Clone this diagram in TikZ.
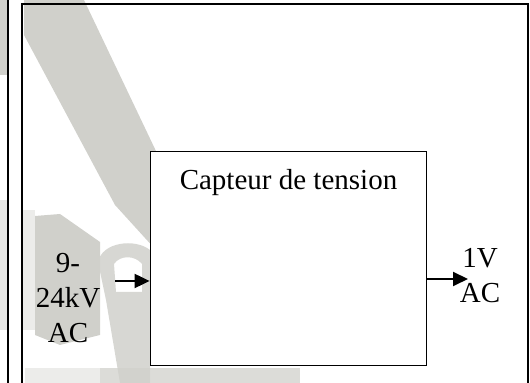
\documentclass[tikz,border=0pt]{standalone}
\usepackage{fontspec}
\setmainfont{Liberation Serif}
\usetikzlibrary{positioning, arrows.meta, calc}
\definecolor{wmgrey}{RGB}{208,208,203}

\begin{document}
\begin{tikzpicture}[
    x=0.5pt, y=-0.5pt,
    font=\fontsize{14.5}{17.5}\selectfont,
    frame_line/.style={line width=1pt, draw=black},
    blk_box/.style   ={draw, line width=0.9pt, fill=white, minimum width=138pt, minimum height=107pt, inner sep=0pt},
    sig_label/.style ={align=center, inner sep=0pt},
    sig_arrow/.style ={line width=1pt, -{Triangle[length=7.5pt, width=7pt]}},
    watermark/.style ={fill=wmgrey, draw=none}
]
\useasboundingbox (0,0) rectangle (530,383);

% Watermark (background)
\fill[watermark] (24,0) -- (84,0) -- (165,170) -- (165,260) -- (115,205) -- (24,35) -- cycle;
\fill[watermark] (0,0) rectangle (8,75);
\fill[watermark, opacity=0.5] (0,200) rectangle (8,330);
\fill[watermark, opacity=0.4] (22,210) rectangle (35,330);
\fill[watermark] (35,216) -- (60,214) -- (100,242) -- (100,335) -- (60,345) -- (35,335) -- cycle;
\fill[watermark, opacity=0.85, even odd rule] (98,262) .. controls (102,242) and (135,238) .. (150,250)
    -- (150,383) -- (120,383) -- (106,300) -- cycle
    (114,264) .. controls (120,255) and (135,255) .. (142,264) -- (142,292) -- (116,292) -- cycle;
\fill[watermark, opacity=0.4] (25,368) rectangle (100,383);
\fill[watermark, opacity=0.75] (100,368) rectangle (300,383);

% Frames
\draw[frame_line] (8,0) -- (8,383);
\draw[frame_line] (22,383) -- (22,4) -- (528,4) -- (528,383);

% Sensor block
\node (capteur) [blk_box] at (288.5,258.5) {};
\node (titre) [anchor=base, inner sep=0pt] at ($(capteur.north)+(0,39)$) {Capteur de tension};

% Signals
\node (vin_lbl)  [sig_label] at (68,298) {9-\\24kV\\AC};
\node (vout_lbl) [sig_label] at (480,276) {1V\\AC};
\coordinate (vin)  at (115,281);
\coordinate (vout) at (468,279);
\draw[sig_arrow] (vin) -- (vin -| capteur.west);
\draw[sig_arrow] (capteur.east |- vout) -- (vout);

\end{tikzpicture}
\end{document}
